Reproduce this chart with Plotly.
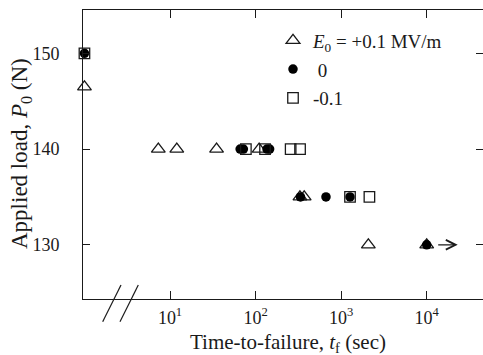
import math
import plotly.graph_objects as go

# Time-to-failure (sec) and applied load (N) for each electric field series
tri_t = [1, 7.3, 12, 35, 110, 330, 370, 2080, 10000]
tri_p = [146.5, 140, 140, 140, 140, 135, 135, 130, 130]

dot_t = [1, 66, 72, 136, 146, 335, 665, 1270, 10000]
dot_p = [150, 140, 140, 140, 140, 135, 135, 135, 130]

sq_t = [1, 77, 129, 257, 331, 1270, 2140]
sq_p = [150, 140, 140, 140, 140, 135, 135]

runout_t = 10000
runout_p = 130

x_tickvals = [10, 100, 1000, 10000]
x_ticktext = ["10<sup>1</sup>", "10<sup>2</sup>", "10<sup>3</sup>", "10<sup>4</sup>"]
y_tickvals = [130, 140, 150]

FONT = "Liberation Serif, Times New Roman, serif"
INK = "#1a1a1a"

fig = go.Figure()
fig.add_trace(go.Scatter(
    x=tri_t, y=tri_p, mode="markers",
    name="<i>E</i><sub>0</sub> = +0.1 MV/m",
    marker=dict(symbol="triangle-up-open", size=12, color=INK, line=dict(width=1.3)),
    legendgroup="a", cliponaxis=False))
fig.add_trace(go.Scatter(
    x=dot_t, y=dot_p, mode="markers", name=" 0",
    marker=dict(symbol="circle", size=9.5, color="black", line=dict(width=0)),
    legendgroup="b", cliponaxis=False))
fig.add_trace(go.Scatter(
    x=sq_t, y=sq_p, mode="markers", name="-0.1",
    marker=dict(symbol="square-open", size=10.5, color=INK, line=dict(width=1.3)),
    legendgroup="c", cliponaxis=False))
# invisible helper trace to carry the right-side tick axis
fig.add_trace(go.Scatter(
    x=sq_t, y=sq_p, xaxis="x", yaxis="y2", mode="markers",
    marker=dict(opacity=0), showlegend=False, hoverinfo="skip"))

yr = [124.34, 154.52]
fig.update_layout(
    width=483, height=355,
    margin=dict(l=83, r=0, t=10, b=56, autoexpand=False),
    paper_bgcolor="white", plot_bgcolor="white",
    font=dict(family=FONT, size=18, color=INK),
    showlegend=True,
    legend=dict(x=0.475, y=0.96, xanchor="left", yanchor="top",
                bgcolor="rgba(0,0,0,0)", font=dict(size=19, family=FONT),
                traceorder="grouped", tracegroupgap=1, itemwidth=30),
    xaxis=dict(type="log", range=[-0.017, 4.658], automargin=False,
               tickvals=x_tickvals, ticktext=x_ticktext,
               ticks="inside", ticklen=8, tickwidth=1, tickcolor=INK,
               showline=True, linecolor=INK, linewidth=1, mirror="ticks",
               showgrid=False, zeroline=False,
               tickfont=dict(size=18, family=FONT), ticklabelstandoff=2),
    yaxis=dict(range=yr, tickvals=y_tickvals, automargin=False,
               ticks="inside", ticklen=7, tickwidth=1, tickcolor=INK,
               showline=True, linecolor=INK, linewidth=1,
               showgrid=False, zeroline=False,
               tickfont=dict(size=18, family=FONT), ticklabelstandoff=19),
    yaxis2=dict(range=yr, tickvals=y_tickvals, overlaying="y", side="right",
                automargin=False,
                ticks="inside", ticklen=7, tickwidth=1, tickcolor=INK,
                showline=False, showticklabels=False, showgrid=False, zeroline=False),
)

# axis titles
fig.add_annotation(text="Time-to-failure, <i>t</i><sub>f</sub> (sec)",
                   xref="paper", yref="paper", x=(288 - 83) / 400.0, y=(299 - 343) / 289.0,
                   xanchor="center", yanchor="middle", showarrow=False,
                   font=dict(size=21, family=FONT, color=INK))
fig.add_annotation(text="Applied load, <i>P</i><sub>0</sub> (N)",
                   xref="paper", yref="paper", x=(21 - 83) / 400.0, y=(299 - 154) / 289.0,
                   xanchor="center", yanchor="middle", showarrow=False, textangle=-90,
                   font=dict(size=23, family=FONT, color=INK))

# runout arrow for the unbroken specimen
fig.add_annotation(x=math.log10(runout_t), y=runout_p, xref="x", yref="y",
                   text="", showarrow=True, ax=-21, ay=0, xshift=31,
                   arrowhead=5, arrowsize=1.6, arrowwidth=1.2, arrowcolor=INK)

# axis-break marks (decoration, paper coordinates)
def px2paper_x(px):
    return (px - 83) / 400.0

def px2paper_y(py):
    return (299 - py) / 289.0

for x0 in (102.7, 120.0):
    fig.add_shape(type="line", xref="paper", yref="paper",
                  x0=px2paper_x(x0), y0=px2paper_y(321.7),
                  x1=px2paper_x(x0 + 18.3), y1=px2paper_y(285),
                  line=dict(color=INK, width=1.2))

fig.write_html("out.html", config={"displayModeBar": False},
               post_script="document.body.style.margin='0';document.body.style.overflow='hidden';")
